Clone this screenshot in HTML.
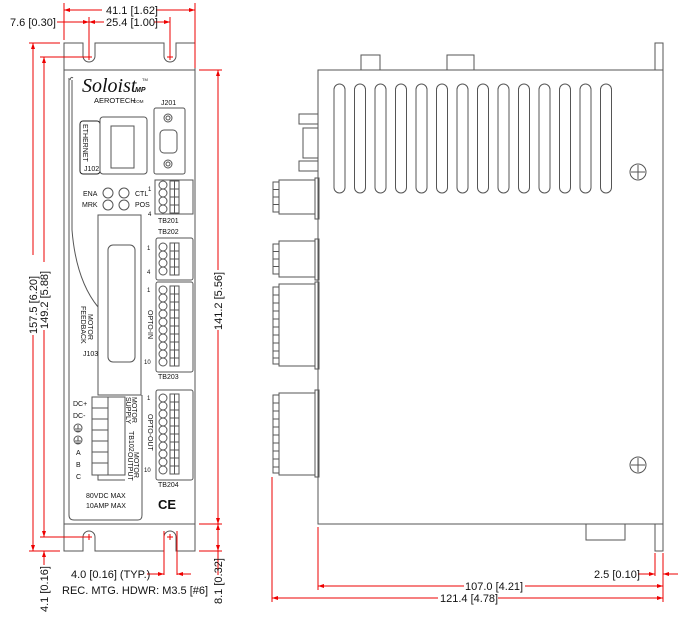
<!DOCTYPE html>
<html><head><meta charset="utf-8"><style>
html,body{margin:0;padding:0;background:#fff}
svg{display:block}
text{font-family:"Liberation Sans",sans-serif;fill:#111}
.d{font-size:11px}
.s{font-size:7px}
.l{fill:none;stroke:#555;stroke-width:1}
.r{stroke:#e00;stroke-width:1;fill:none}
.a{fill:#e00}
</style></head><body>
<svg width="680" height="622" viewBox="0 0 680 622" xmlns="http://www.w3.org/2000/svg">
<!-- FRONT VIEW -->
<path class="l" d="M64,43 H83 V56 A6,6 0 0 0 95,56 V43 H164 V56 A6,6 0 0 0 176,56 V43 H195 V551 H176 V537 A6,6 0 0 0 164,537 V551 H95 V537 A6,6 0 0 0 83,537 V551 H64 Z"/>
<line class="l" x1="64" y1="70" x2="195" y2="70"/>
<line class="l" x1="64" y1="524" x2="195" y2="524"/>
<path class="l" d="M69,78 V515 Q69,520 74,520 H138 Q142,520 142,515 V395"/>
<path class="l" d="M73,78 Q71,76 70,80"/>
<path class="l" d="M72,80 V230 Q76,280 98,307"/>
<!-- logo -->
<text x="82" y="92" style="font-family:'Liberation Serif',serif;font-style:italic;font-size:20px">Soloist</text>
<text x="135" y="92" style="font-size:7px;font-weight:bold;font-style:italic">MP</text>
<text x="142" y="81" style="font-size:4px">TM</text>
<text x="94" y="103" style="font-size:7.5px">AEROTECH</text><text x="133" y="103" style="font-size:4.5px">COM</text>
<!-- ethernet -->
<rect class="l" x="80" y="121" width="20" height="53" rx="3" style="stroke:#222"/>
<text class="s" transform="translate(83,124) rotate(90)">ETHERNET</text>
<text class="s" x="84" y="171">J102</text>
<rect class="l" x="100" y="117" width="47" height="57" rx="3"/>
<rect class="l" x="111" y="126" width="23" height="42"/>
<!-- J201 -->
<text class="s" x="161" y="105">J201</text>
<rect class="l" x="154" y="108" width="31" height="66" rx="2"/>
<circle class="l" cx="168" cy="118" r="4"/><circle class="l" cx="168" cy="118" r="2"/>
<circle class="l" cx="168" cy="164" r="4"/><circle class="l" cx="168" cy="164" r="2"/>
<rect class="l" x="160" y="130" width="17" height="23" rx="4"/>
<!-- LEDs -->
<circle class="l" cx="108" cy="193" r="5"/><circle class="l" cx="124" cy="193" r="5"/>
<circle class="l" cx="108" cy="205" r="5"/><circle class="l" cx="124" cy="205" r="5"/>
<text class="s" x="83" y="196">ENA</text><text class="s" x="82" y="207">MRK</text>
<text class="s" x="135" y="196">CTL</text><text class="s" x="135" y="207">POS</text>
<text style="font-size:6px" x="148" y="191">1</text><text style="font-size:6px" x="148" y="216">4</text>
<!-- TB201 -->
<rect class="l" x="155" y="180" width="38" height="34"/>
<g class="l"><circle cx="163" cy="185" r="4"/><circle cx="163" cy="193" r="4"/><circle cx="163" cy="201" r="4"/><circle cx="163" cy="209" r="4"/></g>
<rect class="l" x="170" y="181" width="9" height="32"/><line class="l" x1="174.5" y1="181" x2="174.5" y2="213"/>
<path class="l" d="M170,189H179M170,197H179M170,205H179"/>
<text class="s" x="158" y="223">TB201</text>
<text class="s" x="158" y="234">TB202</text>
<!-- J103 -->
<path class="l" d="M98,215 H141 V395 H98 Z"/>
<rect class="l" x="108" y="245" width="27" height="117" rx="5"/>
<text class="s" transform="translate(88,314) rotate(90)">MOTOR</text>
<text class="s" transform="translate(81,306) rotate(90)">FEEDBACK</text>
<text class="s" x="83" y="356">J103</text>
<!-- TB202 -->
<rect class="l" x="156" y="238" width="37" height="42" rx="2"/>
<g class="l"><circle cx="163" cy="247" r="4"/><circle cx="163" cy="255" r="4"/><circle cx="163" cy="263" r="4"/><circle cx="163" cy="271" r="4"/></g>
<rect class="l" x="170" y="243" width="9" height="32"/><line class="l" x1="174.5" y1="243" x2="174.5" y2="275"/>
<path class="l" d="M170,251H179M170,259H179M170,267H179"/>
<text style="font-size:6px" x="147" y="250">1</text><text style="font-size:6px" x="147" y="274">4</text>
<!-- TB203 -->
<rect class="l" x="156" y="282" width="37" height="90" rx="2"/>
<g class="l"><circle cx="163" cy="290" r="4"/><circle cx="163" cy="298" r="4"/><circle cx="163" cy="306" r="4"/><circle cx="163" cy="314" r="4"/><circle cx="163" cy="322" r="4"/><circle cx="163" cy="330" r="4"/><circle cx="163" cy="338" r="4"/><circle cx="163" cy="346" r="4"/><circle cx="163" cy="354" r="4"/><circle cx="163" cy="362" r="4"/></g>
<rect class="l" x="170" y="286" width="9" height="80"/><line class="l" x1="174.5" y1="286" x2="174.5" y2="366"/>
<path class="l" d="M170,294H179M170,302H179M170,310H179M170,318H179M170,326H179M170,334H179M170,342H179M170,350H179M170,358H179"/>
<text style="font-size:6px" x="147" y="292">1</text><text style="font-size:6px" x="144" y="364">10</text>
<text class="s" transform="translate(148,310) rotate(90)">OPTO-IN</text>
<text class="s" x="158" y="379">TB203</text>
<!-- TB204 -->
<rect class="l" x="156" y="390" width="37" height="90" rx="2"/>
<g class="l"><circle cx="163" cy="398" r="4"/><circle cx="163" cy="406" r="4"/><circle cx="163" cy="414" r="4"/><circle cx="163" cy="422" r="4"/><circle cx="163" cy="430" r="4"/><circle cx="163" cy="438" r="4"/><circle cx="163" cy="446" r="4"/><circle cx="163" cy="454" r="4"/><circle cx="163" cy="462" r="4"/><circle cx="163" cy="470" r="4"/></g>
<rect class="l" x="170" y="394" width="9" height="80"/><line class="l" x1="174.5" y1="394" x2="174.5" y2="474"/>
<path class="l" d="M170,402H179M170,410H179M170,418H179M170,426H179M170,434H179M170,442H179M170,450H179M170,458H179M170,466H179"/>
<text style="font-size:6px" x="147" y="400">1</text><text style="font-size:6px" x="144" y="472">10</text>
<text class="s" transform="translate(148,414) rotate(90)">OPTO-OUT</text>
<text class="s" x="158" y="487">TB204</text>
<text x="158" y="509" style="font-size:13px;font-weight:bold">CE</text>
<!-- TB102 -->
<rect class="l" x="92" y="397" width="33" height="78"/>
<path class="l" d="M108,397V475M92,408H108M92,419H108M92,430H108M92,441H108M92,452H108M92,463H108"/>
<path class="l" d="M98,475 V480 H125"/>
<text class="s" transform="translate(132,397) rotate(90)">MOTOR</text>
<text class="s" transform="translate(126,397) rotate(90)">SUPPLY</text>
<text class="s" transform="translate(129,431) rotate(90)">TB102</text>
<text class="s" transform="translate(134,452) rotate(90)">MOTOR</text>
<text class="s" transform="translate(128,452) rotate(90)">OUTPUT</text>
<text class="s" x="73" y="406">DC+</text><text class="s" x="73" y="418">DC-</text>
<circle class="l" cx="78" cy="428" r="4"/><path class="l" d="M78,425V429M75,429H81M76,431H80"/>
<circle class="l" cx="78" cy="440" r="4"/><path class="l" d="M78,437V441M75,441H81M76,443H80"/>
<text class="s" x="76" y="455">A</text><text class="s" x="76" y="467">B</text><text class="s" x="76" y="479">C</text>
<text class="s" x="86" y="498">80VDC MAX</text><text class="s" x="86" y="508">10AMP MAX</text>
<!-- mount crosses -->
<path class="r" d="M86,57H92M89,54V60M167,57H173M170,54V60M86,537H92M89,534V540M167,537H173M170,534V540"/>

<!-- FRONT DIMENSIONS -->
<g class="r">
<path d="M64,3V40M195,3V68M64,10H102M156,10H195M89,17V56M170,17V56M57,22H89M89,22H104M154,22H170"/>
<path d="M29,43H60M40,57H86M29,551H60M40,537H86M33,43V255M33,335V551M44,57V262M44,330V537M44,551V565"/>
<path d="M199,70H222M199,524H222M199,551H222M218,70V270M218,330V551M218,551V575"/>
<path d="M164,531V575M177,531V575M147,574H164M177,574H191"/>
</g>
<g class="a">
<path d="M64,10l6,-2v4zM195,10l-6,-2v4zM89,22l6,-2v4zM89,22l-6,-2v4zM170,22l-6,-2v4z"/>
<path d="M33,43l-2,6h4zM33,551l-2,-6h4zM44,57l-2,6h4zM44,537l-2,-6h4zM44,551l-2,6h4z"/>
<path d="M218,70l-2,6h4zM218,524l-2,-6h4zM218,524l-2,6h4zM218,551l-2,-6h4z"/>
<path d="M164,574l-6,-2v4zM177,574l6,-2v4z"/>
</g>
<text class="d" x="106" y="14">41.1 [1.62]</text>
<text class="d" x="10" y="26">7.6 [0.30]</text>
<text class="d" x="106" y="26">25.4 [1.00]</text>
<text class="d" transform="translate(37,334) rotate(-90)">157.5 [6.20]</text>
<text class="d" transform="translate(48,329) rotate(-90)">149.2 [5.88]</text>
<text class="d" transform="translate(222,330) rotate(-90)">141.2 [5.56]</text>
<text class="d" transform="translate(48,612) rotate(-90)">4.1 [0.16]</text>
<text class="d" transform="translate(222,604) rotate(-90)">8.1 [0.32]</text>
<text class="d" x="71" y="578">4.0 [0.16] (TYP.)</text>
<text class="d" x="62" y="594">REC. MTG. HDWR: M3.5 [#6]</text>

<!-- SIDE VIEW -->
<rect class="l" x="318" y="70" width="345" height="454"/>
<rect class="l" x="361" y="55" width="19" height="15"/>
<rect class="l" x="447" y="55" width="27" height="15"/>
<rect class="l" x="655" y="43" width="8" height="27"/>
<rect class="l" x="586" y="524" width="39" height="16"/>
<rect class="l" x="655" y="524" width="8" height="27"/>
<g class="l">
<rect x="334" y="84" width="11" height="109" rx="5.5"/><rect x="354.5" y="84" width="11" height="109" rx="5.5"/><rect x="375" y="84" width="11" height="109" rx="5.5"/><rect x="395.5" y="84" width="11" height="109" rx="5.5"/><rect x="416" y="84" width="11" height="109" rx="5.5"/><rect x="436.5" y="84" width="11" height="109" rx="5.5"/><rect x="457" y="84" width="11" height="109" rx="5.5"/><rect x="477.5" y="84" width="11" height="109" rx="5.5"/><rect x="498" y="84" width="11" height="109" rx="5.5"/><rect x="518.5" y="84" width="11" height="109" rx="5.5"/><rect x="539" y="84" width="11" height="109" rx="5.5"/><rect x="559.5" y="84" width="11" height="109" rx="5.5"/><rect x="580" y="84" width="11" height="109" rx="5.5"/><rect x="600.5" y="84" width="11" height="109" rx="5.5"/>
<circle cx="638" cy="172" r="8"/><path d="M631,172H645M638,165V179"/>
<circle cx="638" cy="465" r="8"/><path d="M631,465H645M638,458V472"/>
<rect x="299" y="114" width="19" height="10"/><rect x="303" y="128" width="15" height="30"/><rect x="299" y="161" width="19" height="10"/>
<rect x="315" y="178" width="4" height="41"/><rect x="279" y="180" width="36" height="34"/>
<rect x="273" y="182" width="6" height="30"/><path d="M273,189.5H279M273,197H279M273,204.5H279"/>
<rect x="315" y="239" width="4" height="41"/><rect x="279" y="241" width="36" height="36"/>
<rect x="273" y="244" width="6" height="30"/><path d="M273,251.5H279M273,259H279M273,266.5H279"/>
<rect x="315" y="282" width="4" height="87"/><rect x="279" y="284" width="36" height="82"/>
<rect x="273" y="287" width="6" height="77"/><path d="M273,295H279M273,303H279M273,311H279M273,319H279M273,327H279M273,335H279M273,343H279M273,351H279M273,358H279"/>
<rect x="315" y="390" width="4" height="87"/><rect x="279" y="393" width="36" height="82"/>
<rect x="273" y="395" width="6" height="78"/><path d="M273,403H279M273,411H279M273,419H279M273,427H279M273,435H279M273,443H279M273,451H279M273,459H279M273,467H279"/>
</g>
<g class="r">
<path d="M272,477V602M318,527V590M655,553V576M663,553V602"/>
<path d="M318,586H464M525,586H663M272,598H438M498,598H663M638,574H655M663,574H678"/>
</g>
<g class="a">
<path d="M318,586l6,-2v4zM663,586l-6,-2v4zM272,598l6,-2v4zM663,598l-6,-2v4zM655,574l-6,-2v4zM663,574l6,-2v4z"/>
</g>
<text class="d" x="465" y="590">107.0 [4.21]</text>
<text class="d" x="440" y="602">121.4 [4.78]</text>
<text class="d" x="594" y="578">2.5 [0.10]</text>
</svg>
</body></html>
